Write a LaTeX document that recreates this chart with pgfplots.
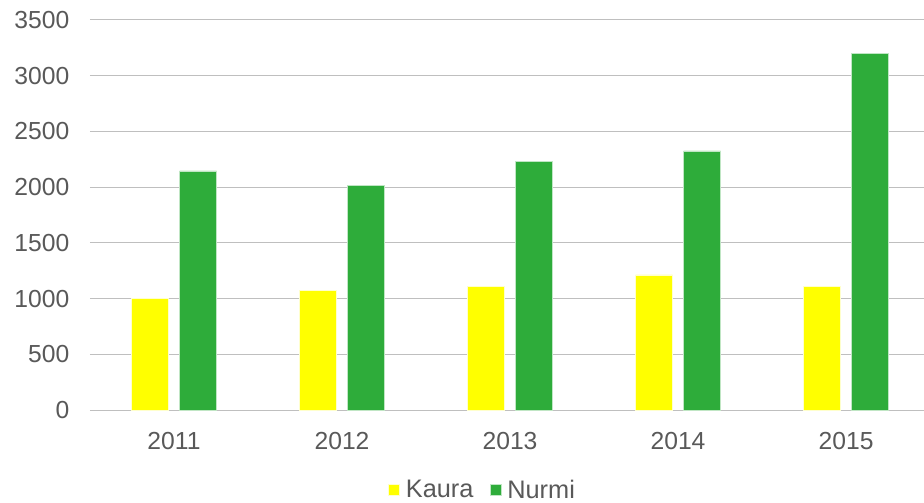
\documentclass[border=0pt]{standalone}
\usepackage{fontspec}
\setmainfont{Liberation Sans}
\usepackage{pgfplots}
\pgfplotsset{compat=1.18}
\definecolor{txt}{HTML}{595959}
\definecolor{grid}{HTML}{D9D9D9}
\definecolor{kaura}{HTML}{FFFF00}
\definecolor{nurmi}{HTML}{2EAC3A}
\begin{document}
\begin{tikzpicture}[x=0.75pt,y=0.75pt]
\useasboundingbox (-90,-93) rectangle (834,410);
\begin{axis}[
  at={(0,0)}, anchor=south west,
  scale only axis,
  width=625.5pt, height=292.5pt,
  ymin=0, ymax=3500, ytick={0,500,...,3500},
  xmin=-0.5, xmax=4.464,
  xtick={0,1,2,3,4}, xticklabels={2011,2012,2013,2014,2015},
  ybar=0pt, bar width=27.75pt,
  axis line style={draw=none},
  xtick style={draw=none}, ytick style={draw=none},
  xmajorgrids=false,
  ymajorgrids, grid style={grid, line width=0.75pt},
  tick label style={font=\fontsize{18.5}{21}\selectfont, text=txt},
  /pgf/number format/assume math mode=true,
  /pgf/number format/set thousands separator={},
  yticklabel style={xshift=-12pt},
  xticklabel style={yshift=-9pt},
  legend style={at={(0.471,-0.205)}, anchor=center, draw=none, legend columns=2,
    font=\fontsize{19}{22}\selectfont, text=txt,
    /tikz/every odd column/.append style={column sep=2.5pt},
    /tikz/every even column/.append style={column sep=10pt}},
  legend image code/.code={\fill[#1] (0pt,-4.25pt) rectangle (8.5pt,4.25pt);},
]
\addplot[fill=kaura, draw=white!80!kaura, bar shift=-18pt] coordinates {(0,1000) (1,1075) (2,1110) (3,1212) (4,1108)};
\addplot[fill=nurmi, draw=white!70!nurmi, bar shift=18pt] coordinates {(0,2145) (1,2018) (2,2232) (3,2325) (4,3200)};
\legend{Kaura, Nurmi}
\end{axis}
\end{tikzpicture}
\end{document}
